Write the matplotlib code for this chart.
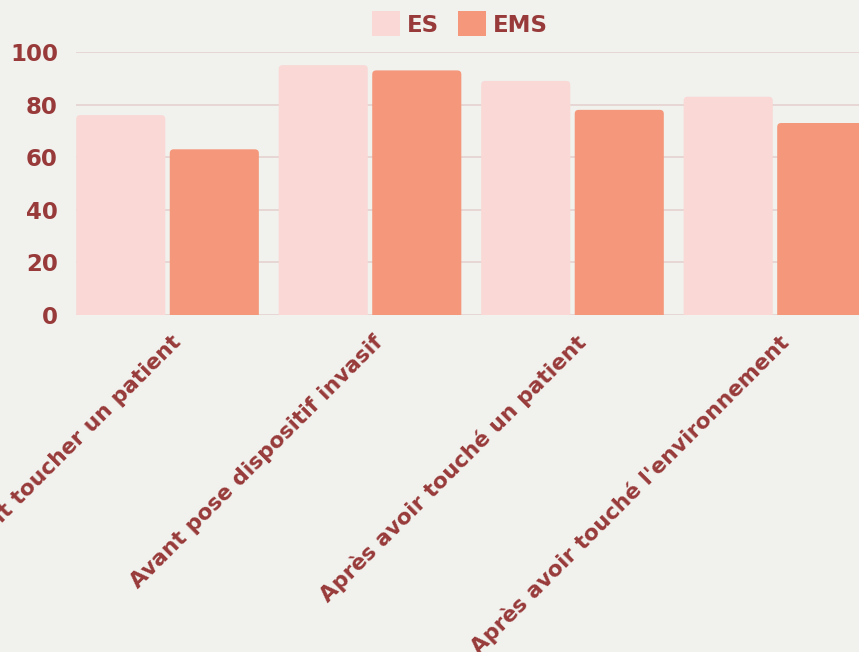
import matplotlib
matplotlib.use("Agg")
import matplotlib.pyplot as plt
import numpy as np
from matplotlib.patches import Patch, FancyBboxPatch
from matplotlib.transforms import offset_copy

categories = ["Avant toucher un patient", "Avant pose dispositif invasif",
              "Après avoir touché un patient", "Après avoir touché l'environnement"]
es_values = [76, 95, 89, 83]
ems_values = [63, 93, 78, 73]
y_ticks = [0, 20, 40, 60, 80, 100]

BG = "#F1F1ED"
TXT = "#983A3A"
ES_C = "#F9D8D6"
EMS_C = "#F4977A"
GRID = "#E6D2D0"

W, H = 859, 652
fig = plt.figure(figsize=(W / 100, H / 100), dpi=100, facecolor=BG)
ax_w_px, ax_h_px = W - 76, 263
ax = fig.add_axes([76 / W, (H - 315) / H, ax_w_px / W, ax_h_px / H])
ax.set_facecolor("none")

xlim = (-0.452, 3.415)
ylim = (0, 100)
ax.set_xlim(*xlim)
ax.set_ylim(*ylim)

x = np.arange(len(categories))
off = 0.231
bw = 0.44
bars_es = ax.bar(x - off, es_values, bw, color=ES_C, label="ES", zorder=2)
bars_ems = ax.bar(x + off, ems_values, bw, color=EMS_C, label="EMS", zorder=2)

# rounded top corners
px_per_x = ax_w_px / (xlim[1] - xlim[0])
px_per_y = ax_h_px / (ylim[1] - ylim[0])
radius_px = 4
for bars in (bars_es, bars_ems):
    for r in bars:
        x0, y0, w, h = r.get_x(), r.get_y(), r.get_width(), r.get_height()
        ext = 5.0
        p = FancyBboxPatch((x0, y0 - ext), w, h + ext,
                           boxstyle=f"round,pad=0,rounding_size={radius_px / px_per_x}",
                           mutation_aspect=px_per_x / px_per_y,
                           facecolor=r.get_facecolor(), edgecolor="none", zorder=2)
        ax.add_patch(p)
        r.set_visible(False)

ax.set_yticks(y_ticks)
ax.set_yticklabels([str(v) for v in y_ticks])
ax.grid(axis="y", color=GRID, linewidth=1.2, zorder=0)
for s in ax.spines.values():
    s.set_visible(False)
ax.tick_params(axis="y", length=0, pad=13, labelcolor=TXT, labelsize=16.5)
for t in ax.get_yticklabels():
    t.set_fontweight("bold")

ax.set_xticks(x)
ax.set_xticklabels(categories, rotation=45, ha="right", va="top",
                   rotation_mode="anchor", fontsize=15.7, fontweight="bold", color=TXT)
ax.tick_params(axis="x", length=0, pad=12)
for t in ax.get_xticklabels():
    t.set_transform(offset_copy(t.get_transform(), fig=fig, x=3, y=0, units="dots"))

handles = [Patch(facecolor=ES_C, label="ES"), Patch(facecolor=EMS_C, label="EMS")]
leg = fig.legend(handles=handles, loc="center", bbox_to_anchor=(460 / W, 1 - 24 / H),
                 ncol=2, frameon=False, fontsize=16.5, handlelength=1.25, handleheight=1.3,
                 handletextpad=0.3, columnspacing=0.8)
for t in leg.get_texts():
    t.set_color(TXT)
    t.set_fontweight("bold")

fig.savefig("out.png", dpi=100, facecolor=BG)
